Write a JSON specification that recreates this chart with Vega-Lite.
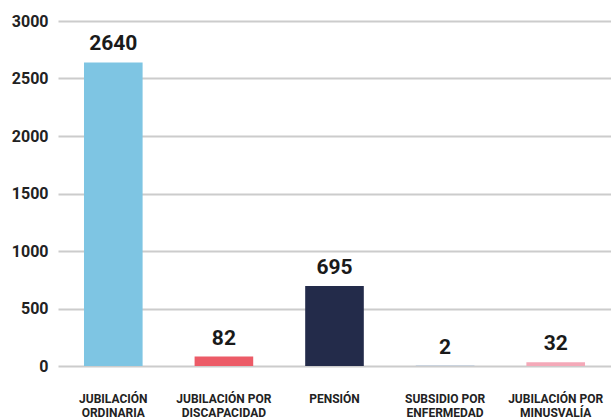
{
  "$schema": "https://vega.github.io/schema/vega-lite/v6.json",
  "width": 553,
  "height": 345,
  "autosize": "none",
  "padding": {"left": 58, "top": 21, "right": 0, "bottom": 53},
  "background": "white",
  "data": {
    "values": [
      {"tipo": "JUBILACIÓN|ORDINARIA", "valor": 2640, "color": "#7EC5E3"},
      {"tipo": "JUBILACIÓN POR|DISCAPACIDAD", "valor": 82, "color": "#EC5B67"},
      {"tipo": "PENSIÓN", "valor": 695, "color": "#232B4A"},
      {"tipo": "SUBSIDIO POR|ENFERMEDAD", "valor": 2, "color": "#7B9FC9"},
      {"tipo": "JUBILACIÓN POR|MINUSVALÍA", "valor": 32, "color": "#F4A9B8"}
    ]
  },
  "config": {"view": {"stroke": null}},
  "encoding": {
    "x": {
      "field": "tipo",
      "type": "nominal",
      "sort": null,
      "scale": {"paddingInner": 0.47, "paddingOuter": 0.235},
      "axis": {
        "title": null,
        "labelAngle": 0,
        "domain": false,
        "ticks": false,
        "labelExpr": "split(datum.label, '|')",
        "labelPadding": 32,
        "labelFont": "Roboto",
        "labelFontWeight": "bold",
        "labelFontSize": 12,
        "labelColor": "#222222",
        "labelLineHeight": 14,
        "labelBaseline": "middle",
        "labelLimit": 200
      }
    },
    "y": {
      "field": "valor",
      "type": "quantitative",
      "scale": {"domain": [0, 3000]},
      "axis": {
        "title": null,
        "format": "d",
        "values": [0, 500, 1000, 1500, 2000, 2500, 3000],
        "domain": false,
        "ticks": false,
        "labelPadding": 10,
        "labelFont": "Roboto",
        "labelFontWeight": "bold",
        "labelFontSize": 16,
        "labelColor": "#222222",
        "gridColor": "#cccccc",
        "gridWidth": 2
      }
    }
  },
  "layer": [
    {
      "mark": {"type": "bar"},
      "encoding": {
        "color": {"field": "color", "type": "nominal", "scale": null}
      }
    },
    {
      "mark": {
        "type": "text",
        "baseline": "bottom",
        "dy": -8,
        "font": "Roboto",
        "fontWeight": "bold",
        "fontSize": 21,
        "color": "#1a1a1a"
      },
      "encoding": {
        "text": {"field": "valor", "type": "quantitative"}
      }
    }
  ]
}
